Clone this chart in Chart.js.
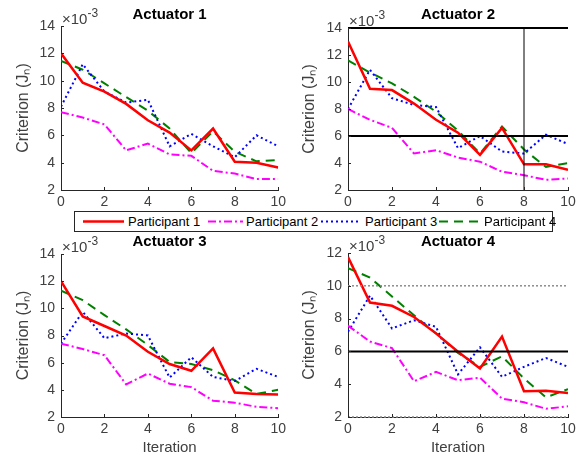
<!DOCTYPE html>
<html>
<head>
<meta charset="utf-8">
<script src="https://cdn.jsdelivr.net/npm/chart.js@4.4.0/dist/chart.umd.min.js"></script>
<style>
  body { margin: 0; background: #fff; }
  #wrap { position: relative; width: 580px; height: 456px; overflow: hidden; font-family: "Liberation Sans", Arial, sans-serif; }
  canvas { position: absolute; }
  #legend { position: absolute; left: 74px; top: 211px; width: 477px; height: 19px; border: 1px solid #262626; background: #fff; }
  .item { position: absolute; top: 0; height: 19px; font-size: 13px; line-height: 19px; color: #000; }
  .item svg { position: absolute; top: 0; }
  .item span { position: absolute; white-space: nowrap; }
</style>
</head>
<body>
<div id="wrap">
  <canvas id="c1"></canvas>
  <canvas id="c2"></canvas>
  <canvas id="c3"></canvas>
  <canvas id="c4"></canvas>
  <div id="legend"></div>
</div>
<script>
// iterations (x axis)
const iterations = [0, 1, 2, 3, 4, 5, 6, 7, 8, 9, 10];
const participants = ['Participant 1', 'Participant 2', 'Participant 3', 'Participant 4'];

// criterion values, x10^-3
const act1P1 = [12.0, 9.85, 9.2, 8.3, 7.1, 6.2, 4.9, 6.5, 4.07, 4.0, 3.65];
const act1P2 = [7.7, 7.3, 6.8, 4.9, 5.4, 4.6, 4.5, 3.4, 3.2, 2.8, 2.8];
const act1P3 = [8.1, 11.2, 9.2, 8.4, 8.6, 5.2, 6.1, 5.2, 4.4, 6.0, 5.2];
const act1P4 = [11.45, 10.8, 9.8, 8.8, 7.8, 6.5, 4.7, 6.3, 4.8, 4.1, 4.2];

const act2P1 = [13.0, 9.5, 9.4, 8.4, 7.2, 6.25, 4.6, 6.6, 3.9, 3.9, 3.5];
const act2P2 = [8.0, 7.2, 6.6, 4.7, 4.95, 4.4, 4.1, 3.35, 3.1, 2.75, 2.85];
const act2P3 = [8.0, 10.9, 8.8, 8.3, 8.15, 5.1, 6.0, 4.85, 4.7, 6.1, 5.4];
const act2P4 = [11.6, 10.7, 9.9, 8.9, 7.8, 6.4, 4.7, 6.7, 5.0, 3.7, 4.0];

const act3P1 = [12.0, 9.4, 8.7, 8.0, 6.8, 5.9, 5.4, 7.05, 3.8, 3.7, 3.65];
const act3P2 = [7.4, 7.0, 6.55, 4.4, 5.2, 4.45, 4.2, 3.2, 3.05, 2.75, 2.65];
const act3P3 = [7.4, 9.75, 7.8, 8.15, 8.0, 4.9, 6.4, 4.95, 4.65, 5.55, 4.95];
const act3P4 = [11.3, 10.6, 9.5, 8.45, 7.3, 6.05, 5.9, 5.45, 4.7, 3.7, 4.0];

const act4P1 = [11.75, 8.98, 8.78, 8.1, 7.1, 5.98, 4.96, 6.9, 3.57, 3.6, 3.47];
const act4P2 = [7.57, 6.6, 6.2, 4.18, 4.75, 4.24, 4.4, 3.12, 2.9, 2.5, 2.65];
const act4P3 = [7.2, 9.4, 7.4, 7.9, 7.5, 4.6, 6.25, 4.45, 5.06, 5.6, 5.06];
const act4P4 = [11.08, 10.5, 9.35, 8.2, 7.1, 5.9, 5.06, 5.7, 4.35, 3.2, 3.7];

const xTicks = [0, 2, 4, 6, 8, 10];
const yTicksTall = [2, 4, 6, 8, 10, 12, 14];
const yTicksShort = [2, 4, 6, 8, 10, 12];

// reference lines drawn on panels 2 and 4
const act2HLines = [14, 6];
const act2VLines = [8];
const act4HLines = [6];
const act4DottedLines = [10, 2];

const seriesStyle = [
  { color: '#ff0000', width: 2.5, dash: [] },
  { color: '#ff00ff', width: 2, dash: [8, 3, 2, 3] },
  { color: '#0000ff', width: 2, dash: [2, 3] },
  { color: '#008000', width: 2, dash: [9, 6] }
];

const axisColor = '#262626';
const tickColor = '#404040';

const panels = [
  { id: 'c1', title: 'Actuator 1', data: [act1P1, act1P2, act1P3, act1P4], yMax: 14,
    left: 0, top: 0, w: 290, h: 210, pad: { top: 26, right: 11 }, yW: 61, xH: 20, xTitle: false, yTitlePad: 15, titleY: 15 },
  { id: 'c2', title: 'Actuator 2', data: [act2P1, act2P2, act2P3, act2P4], yMax: 14,
    left: 290, top: 0, w: 290, h: 210, pad: { top: 28, right: 12 }, yW: 58, xH: 20, xTitle: false, yTitlePad: 11, titleY: 15,
    hLines: act2HLines, vLines: act2VLines },
  { id: 'c3', title: 'Actuator 3', data: [act3P1, act3P2, act3P3, act3P4], yMax: 14,
    left: 0, top: 230, w: 290, h: 226, pad: { top: 24, right: 11 }, yW: 61, xH: 39, xTitle: true, yTitlePad: 15, titleY: 12 },
  { id: 'c4', title: 'Actuator 4', data: [act4P1, act4P2, act4P3, act4P4], yMax: 12,
    left: 290, top: 230, w: 290, h: 226, pad: { top: 23, right: 12 }, yW: 58, xH: 39, xTitle: true, yTitlePad: 11, titleY: 12,
    hLines: act4HLines, dotLines: act4DottedLines }
];

// title, x10^-3 label, inward ticks and reference lines
const decorPlugin = {
  id: 'decor',
  afterDatasetsDraw(chart, args, opts) {
    const ctx = chart.ctx;
    const a = chart.chartArea;
    const xs = chart.scales.x, ys = chart.scales.y;
    ctx.save();
    // dotted grey lines
    (opts.dotLines || []).forEach(v => {
      const y = ys.getPixelForValue(v);
      ctx.strokeStyle = '#8c8c8c';
      ctx.lineWidth = 1.5;
      ctx.setLineDash([2, 2]);
      ctx.beginPath(); ctx.moveTo(a.left, y); ctx.lineTo(a.right, y); ctx.stroke();
    });
    ctx.setLineDash([]);
    (opts.hLines || []).forEach(v => {
      const y = ys.getPixelForValue(v);
      ctx.strokeStyle = '#000';
      ctx.lineWidth = 2;
      ctx.beginPath(); ctx.moveTo(a.left, y); ctx.lineTo(a.right, y); ctx.stroke();
    });
    (opts.vLines || []).forEach(v => {
      const x = xs.getPixelForValue(v);
      ctx.strokeStyle = '#000';
      ctx.lineWidth = 1;
      ctx.beginPath(); ctx.moveTo(x, a.top); ctx.lineTo(x, a.bottom); ctx.stroke();
    });
    // inward ticks
    ctx.strokeStyle = axisColor;
    ctx.lineWidth = 1;
    xTicks.forEach(v => {
      const x = Math.round(xs.getPixelForValue(v)) + 0.5;
      ctx.beginPath(); ctx.moveTo(x, a.bottom); ctx.lineTo(x, a.bottom - 3); ctx.stroke();
    });
    ys.ticks.forEach(t => {
      const y = Math.round(ys.getPixelForValue(t.value)) + 0.5;
      ctx.beginPath(); ctx.moveTo(a.left, y); ctx.lineTo(a.left + 3, y); ctx.stroke();
    });
    // title
    ctx.fillStyle = '#000';
    ctx.font = 'bold 15px "Liberation Sans", Arial, sans-serif';
    ctx.textAlign = 'center';
    ctx.textBaseline = 'middle';
    ctx.fillText(opts.title, (a.left + a.right) / 2, opts.titleY);
    // exponent label
    ctx.fillStyle = tickColor;
    ctx.textAlign = 'left';
    ctx.textBaseline = 'alphabetic';
    ctx.font = '15px "Liberation Sans", Arial, sans-serif';
    const base = '\u00d710';
    ctx.fillText(base, a.left + 1, a.top - 2);
    const bw = ctx.measureText(base).width;
    ctx.font = '12px "Liberation Sans", Arial, sans-serif';
    ctx.fillText('-3', a.left + 1 + bw, a.top - 9);
    ctx.restore();
  }
};

panels.forEach(p => {
  const cv = document.getElementById(p.id);
  cv.style.left = p.left + 'px';
  cv.style.top = p.top + 'px';
  cv.width = p.w;
  cv.height = p.h;
  cv.style.width = p.w + 'px';
  cv.style.height = p.h + 'px';

  const datasets = p.data.map((vals, i) => ({
    label: participants[i],
    data: iterations.map((it, k) => ({ x: it, y: vals[k] })),
    borderColor: seriesStyle[i].color,
    borderWidth: seriesStyle[i].width,
    borderDash: seriesStyle[i].dash,
    pointRadius: 0,
    tension: 0,
    fill: false
  }));

  new Chart(cv, {
    type: 'line',
    data: { datasets },
    plugins: [decorPlugin],
    options: {
      responsive: false,
      animation: false,
      layout: { padding: { top: p.pad.top, right: p.pad.right, left: 0, bottom: 0 } },
      plugins: {
        legend: { display: false },
        tooltip: { enabled: false },
        decor: { title: p.title, titleY: p.titleY, hLines: p.hLines, vLines: p.vLines, dotLines: p.dotLines }
      },
      scales: {
        x: {
          type: 'linear', min: 0, max: 10,
          afterFit: s => { s.height = p.xH; },
          afterBuildTicks: s => { s.ticks = xTicks.map(v => ({ value: v })); },
          grid: { display: false, drawTicks: false, tickLength: 0 },
          border: { display: true, color: axisColor, width: 1 },
          ticks: { color: tickColor, font: { size: 14, family: '"Liberation Sans", Arial, sans-serif' }, padding: 4, maxRotation: 0 },
          title: {
            display: p.xTitle, text: 'Iteration', color: tickColor,
            font: { size: 15, family: '"Liberation Sans", Arial, sans-serif', lineHeight: 1.1 },
            padding: { top: 0, bottom: 0 }
          }
        },
        y: {
          min: 2, max: p.yMax,
          afterFit: s => { s.width = p.yW; },
          afterBuildTicks: s => { s.ticks = (p.yMax === 14 ? yTicksTall : yTicksShort).map(v => ({ value: v })); },
          grid: { display: false, drawTicks: false, tickLength: 0 },
          border: { display: true, color: axisColor, width: 1 },
          ticks: { color: tickColor, font: { size: 14, family: '"Liberation Sans", Arial, sans-serif' }, padding: 6 },
          title: {
            display: true, text: 'Criterion (J\u2099)', color: tickColor,
            font: { size: 16, family: '"Liberation Sans", Arial, sans-serif', lineHeight: 1.2 },
            padding: { top: p.yTitlePad - 1, bottom: 0 }
          }
        }
      }
    }
  });
});

// shared legend
const legendPos = [
  { line: 8, w: 41, text: 53 },
  { line: 133, w: 35, text: 171 },
  { line: 246, w: 37, text: 290 },
  { line: 364, w: 40, text: 409 }
];
const legend = document.getElementById('legend');
participants.forEach((name, i) => {
  const st = seriesStyle[i];
  const pos = legendPos[i];
  const item = document.createElement('div');
  item.className = 'item';
  item.style.left = '0px';
  item.innerHTML =
    '<svg width="' + (pos.line + pos.w + 2) + '" height="19" style="left:0">' +
    '<line x1="' + pos.line + '" y1="9.5" x2="' + (pos.line + pos.w) + '" y2="9.5" stroke="' + st.color +
    '" stroke-width="' + st.width + '" stroke-dasharray="' + (st.dash.length ? st.dash.join(',') : 'none') + '"/></svg>' +
    '<span style="left:' + pos.text + 'px">' + name + '</span>';
  legend.appendChild(item);
});
</script>
</body>
</html>
